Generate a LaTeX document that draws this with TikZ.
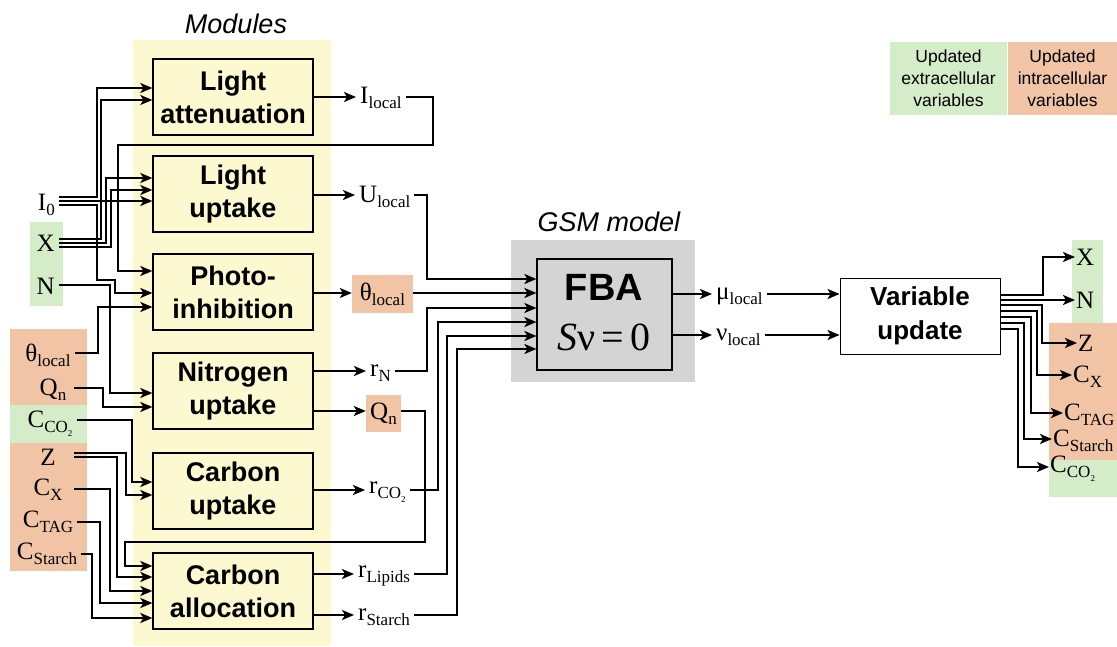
\documentclass[tikz,border=0pt]{standalone}
\usepackage{fontspec}
\setmainfont{Liberation Serif}
\setsansfont{Liberation Sans}
\usetikzlibrary{arrows.meta}
\definecolor{modbg}{RGB}{252,248,208}
\definecolor{extg}{RGB}{212,236,200}
\definecolor{into}{RGB}{241,196,166}
\definecolor{gsmg}{RGB}{212,212,212}
\newcommand{\vf}{\fontsize{25}{27}\selectfont}
\newcommand{\lowsub}[1]{\raisebox{-0.2em}{\fontsize{17}{17}\selectfont #1}}
\newcommand{\cotwo}{CO\raisebox{-0.25em}{\fontsize{9}{9}\selectfont 2}}
\begin{document}
\begin{tikzpicture}[x=1pt,y=-1pt,
  xarr/.style={-{Stealth[length=12pt,width=10pt,inset=3pt]},line width=2pt},
  modbox/.style={draw,line width=1.3pt,fill=modbg,minimum width=160pt,minimum height=76pt,align=center,font=\fontsize{27}{33}\selectfont\sffamily\bfseries,inner sep=0pt},
  vtxt/.style={font=\vf,inner xsep=4pt,inner ysep=1pt},
  ltitle/.style={font=\fontsize{27}{30}\selectfont\sffamily\itshape,inner sep=0pt},
  legbox/.style={minimum width=117pt,minimum height=73pt,align=center,font=\fontsize{17.5}{22}\selectfont\sffamily,inner sep=0pt},
]
\useasboundingbox (0,0) rectangle (1117,647);
\fill[white] (0,0) rectangle (1117,647);

% module background
\fill[modbg] (133,40) rectangle (331,646);
\node[ltitle] (modT) at (236,24) {Modules};

% modules
\node[modbox] (LA) at (233,97) {Light\\attenuation};
\node[modbox] (LU) at (233,194) {Light\\uptake};
\node[modbox] (PI) at (233,292) {Photo-\\inhibition};
\node[modbox] (NU) at (233,391) {Nitrogen\\uptake};
\node[modbox] (CU) at (233,491) {Carbon\\uptake};
\node[modbox] (CA) at (233,591) {Carbon\\allocation};

% GSM model
\node[fill=gsmg,minimum width=184pt,minimum height=142pt,inner sep=0pt] (gsm) at (603,311) {};
\node[ltitle] (gsmT) at (609,222) {GSM model};
\node[draw,line width=1.2pt,fill=gsmg,minimum width=135pt,minimum height=111pt,inner sep=0pt] (fba) at (604.5,314.5) {};
\node[font=\fontsize{38}{40}\selectfont\sffamily\bfseries,inner sep=0pt] (fbaT) at (604,287) {FBA};
\node[font=\fontsize{40}{42}\selectfont,inner sep=0pt] (fbaE) at (604,337) {\textit{S}ν\,=\,0};

% input backgrounds
\fill[extg] (30,222) rectangle (63,306);
\fill[into] (10,329) rectangle (87,405);
\fill[extg] (10,405) rectangle (87,443);
\fill[into] (10,443) rectangle (87,571);

% left inputs
\node[vtxt,anchor=east] (I0) at (59,205) {I\lowsub{0}};
\node[vtxt,anchor=east] (X) at (59,243) {X};
\node[vtxt,anchor=east] (N) at (59,286) {N};
\node[vtxt,minimum width=54pt] (thL) at (48,355) {θ\lowsub{local}};
\node[vtxt,minimum width=42pt] (QnL) at (53,390) {Q\lowsub{n}};
\node[vtxt,minimum width=48pt] (CO2L) at (50,424) {C\lowsub{\cotwo}};
\node[vtxt,minimum width=52pt] (ZL) at (48,457) {Z};
\node[vtxt,minimum width=52pt] (CXL) at (48,490) {C\lowsub{X}};
\node[vtxt,minimum width=52pt] (CTL) at (48,522) {C\lowsub{TAG}};
\node[vtxt] (CSL) at (47,554) {C\lowsub{Starch}};

\draw[xarr] (I0.east |- 0,197) -| (97,88) -- (LA.west |- 0,88);
\draw[xarr] (I0.east |- 0,205) -| (97,280) -| (115,293) -- (PI.west |- 0,293);
\draw[xarr] (I0.east |- 0,201) -- (LU.west |- 0,201);
\draw[xarr] (X.east |- 0,239) -| (101,100) -- (LA.west |- 0,100);
\draw[xarr] (X.east |- 0,243) -| (106,178) -- (LU.west |- 0,178);
\draw[xarr] (X.east |- 0,247) -| (111,190) -- (LU.west |- 0,190);
\draw[xarr] (N.east |- 0,285) -| (110,393) -- (NU.west |- 0,393);
\draw[xarr] (thL.east |- 0,353) -| (98,307) -- (PI.west |- 0,307);
\draw[xarr] (QnL.east |- 0,388) -| (103,407) -- (NU.west |- 0,407);
\draw[xarr] (CO2L.east |- 0,420) -| (132,482) -- (CU.west |- 0,482);
\draw[xarr] (ZL.east |- 0,453) -| (126,495) -- (CU.west |- 0,495);
\draw[xarr] (ZL.east |- 0,457) -| (117,577) -- (CA.west |- 0,577);
\draw[xarr] (CXL.east |- 0,489) -| (110,591) -- (CA.west |- 0,591);
\draw[xarr] (CTL.east |- 0,522) -| (100,603) -- (CA.west |- 0,603);
\draw[xarr] (CSL.east |- 0,554) -| (92,618) -- (CA.west |- 0,618);

% module outputs
\node[vtxt,anchor=west] (Il) at (356,98) {I\lowsub{local}};
\draw[xarr] (LA.east |- 0,97) -- (Il.west |- 0,97);
\draw[xarr] (Il.east |- 0,97) -- (433,97) -- (433,145) -- (118,145) -- (118,271) -- (PI.west |- 0,271);

\node[vtxt,anchor=west] (Ul) at (355,197) {U\lowsub{local}};
\draw[xarr] (LU.east |- 0,195) -- (Ul.west |- 0,195);
\draw[xarr] (Ul.east |- 0,195) -| (427,279) -- (fba.west |- 0,279);

\node[vtxt,fill=into,minimum width=61pt,minimum height=38pt,inner sep=0pt] (thR) at (382.5,294) {θ\lowsub{local}};
\draw[xarr] (PI.east |- 0,293) -- (thR.west |- 0,293);
\draw[xarr] (thR.east |- 0,293) -- (fba.west |- 0,293);

\node[vtxt,anchor=west] (rN) at (366,373) {r\lowsub{N}};
\draw[xarr] (NU.east |- 0,371) -- (rN.west |- 0,371);
\draw[xarr] (rN.east |- 0,371) -| (427,308) -- (fba.west |- 0,308);

\node[vtxt,fill=into,minimum width=35pt,minimum height=37pt,inner sep=0pt] (QnR) at (383.5,413.5) {Q\lowsub{n}};
\draw[xarr] (NU.east |- 0,411) -- (QnR.west |- 0,411);
\draw[xarr] (QnR.east |- 0,411) -| (425,542) -| (125,566) -- (CA.west |- 0,566);

\node[vtxt,anchor=west] (rC) at (365,492) {r\lowsub{\cotwo}};
\draw[xarr] (CU.east |- 0,490) -- (rC.west |- 0,490);
\draw[xarr] (rC.east |- 0,490) -| (438,322) -- (fba.west |- 0,322);

\node[vtxt,anchor=west] (rL) at (354,576) {r\lowsub{Lipids}};
\draw[xarr] (CA.east |- 0,574) -- (rL.west |- 0,574);
\draw[xarr] (rL.east |- 0,574) -| (447,336) -- (fba.west |- 0,336);

\node[vtxt,anchor=west] (rS) at (354,617) {r\lowsub{Starch}};
\draw[xarr] (CA.east |- 0,615) -- (rS.west |- 0,615);
\draw[xarr] (rS.east |- 0,615) -| (457,349) -- (fba.west |- 0,349);

% FBA outputs
\node[vtxt,anchor=west] (mu) at (712,296) {μ\lowsub{local}};
\node[vtxt,anchor=west] (nu) at (712,337) {ν\lowsub{local}};
\draw[xarr] (fba.east |- 0,294) -- (mu.west |- 0,294);
\draw[xarr] (fba.east |- 0,335) -- (nu.west |- 0,335);
\node[draw,line width=0.9pt,fill=white,minimum width=160pt,minimum height=76pt,align=center,font=\fontsize{26}{34}\selectfont\sffamily\bfseries,inner sep=0pt] (vu) at (920,316) {Variable\\update};
\draw[xarr] (mu.east |- 0,294) -- (vu.west |- 0,294);
\draw[xarr] (nu.east |- 0,335) -- (vu.west |- 0,335);

% right outputs
\fill[extg] (1072,240) rectangle (1103,325);
\fill[into] (1049,323) rectangle (1117,460);
\fill[extg] (1049,460) rectangle (1117,497);
\node[vtxt,inner xsep=1pt,anchor=west] (Xo) at (1075,257) {X};
\node[vtxt,inner xsep=1pt,anchor=west] (No) at (1075,300) {N};
\node[vtxt,inner xsep=1pt,anchor=west] (Zo) at (1077,343) {Z};
\node[vtxt,inner xsep=1pt,anchor=west] (CXo) at (1072,377) {C\lowsub{X}};
\node[vtxt,inner xsep=1pt,anchor=west] (CTo) at (1063,415) {C\lowsub{TAG}};
\node[vtxt,inner xsep=1pt,anchor=west] (CSo) at (1052,441) {C\lowsub{Starch}};
\node[vtxt,inner xsep=1pt,anchor=west] (CCo) at (1049,469) {C\lowsub{\cotwo}};
\draw[xarr] (vu.east |- 0,295) -| (1043,257) -- (Xo.west |- 0,257);
\draw[xarr] (vu.east |- 0,300) -- (No.west |- 0,300);
\draw[xarr] (vu.east |- 0,305) -| (1042,343) -- (Zo.west |- 0,343);
\draw[xarr] (vu.east |- 0,311) -| (1037,375) -- (CXo.west |- 0,375);
\draw[xarr] (vu.east |- 0,317) -| (1031,413) -- (CTo.west |- 0,413);
\draw[xarr] (vu.east |- 0,323) -| (1024,439) -- (CSo.west |- 0,439);
\draw[xarr] (vu.east |- 0,329) -| (1018,467) -- (CCo.west |- 0,467);

% legend
\node[legbox,fill=extg] (legE) at (948.5,78.5) {Updated\\extracellular\\variables};
\node[legbox,fill=into,minimum width=109pt] (legI) at (1062.5,78.5) {Updated\\intracellular\\variables};
\end{tikzpicture}
\end{document}
